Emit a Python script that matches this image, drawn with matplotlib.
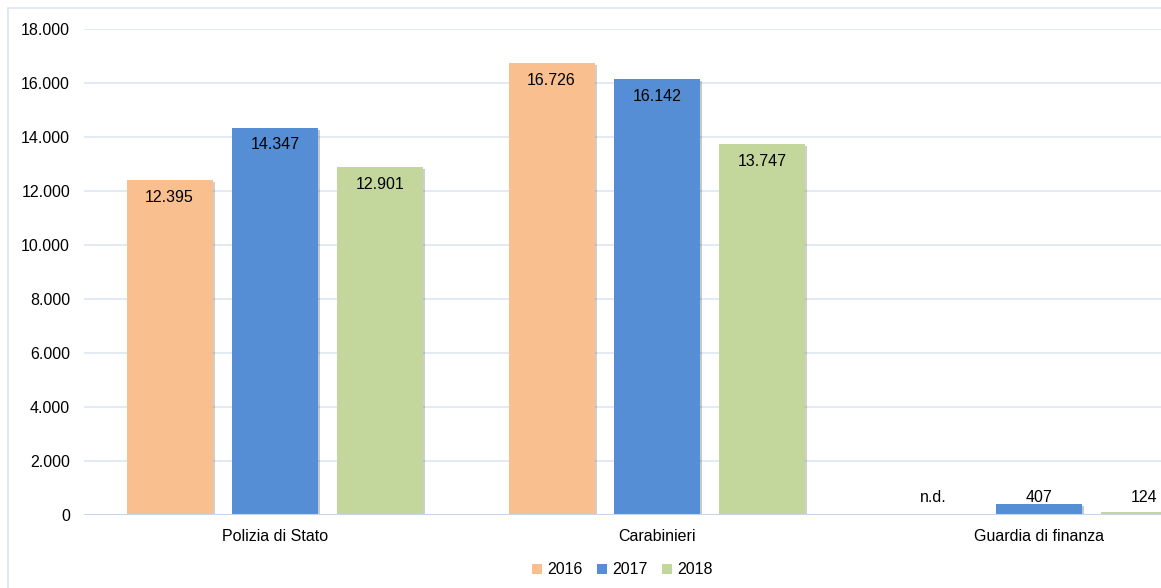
import matplotlib
matplotlib.use("Agg")
import matplotlib.pyplot as plt
import matplotlib.patheffects as pe
from matplotlib.patches import Rectangle
import numpy as np

categories = ["Polizia di Stato", "Carabinieri", "Guardia di finanza"]
years = ["2016", "2017", "2018"]
v2016 = [12395, 16726, 0]
v2017 = [14347, 16142, 407]
v2018 = [12901, 13747, 124]
labels2016 = ["12.395", "16.726", "n.d."]
labels2017 = ["14.347", "16.142", "407"]
labels2018 = ["12.901", "13.747", "124"]
colors = ["#F9BF8F", "#558ED5", "#C3D69B"]

plt.rcParams["font.family"] = ["Liberation Sans", "DejaVu Sans"]
fs = 11.5

fig = plt.figure(figsize=(11.61, 5.88), dpi=100)
fig.patches.append(Rectangle((8 / 1161, -0.1), 1.2, (580 / 588) + 0.1, transform=fig.transFigure,
                             fill=False, edgecolor="#dae5f2", linewidth=1.2))
ax = fig.add_axes([84 / 1161, 1 - 515 / 588, 1146 / 1161, 486 / 588])

x = np.arange(len(categories))
w = 0.225
off = 0.276
shadow = [pe.SimplePatchShadow(offset=(1.5, -1.5), alpha=0.25), pe.Normal()]
series = [(v2016, labels2016), (v2017, labels2017), (v2018, labels2018)]
all_bars = []
for i, (vals, labs) in enumerate(series):
    pos = x + (i - 1) * off
    bars = ax.bar(pos, vals, width=w, color=colors[i], label=years[i], zorder=3)
    all_bars.append(bars)
    for p, v, t in zip(pos, vals, labs):
        if v > 2000:
            ax.annotate(t, (p, v), xytext=(0, -12.5), textcoords="offset points",
                        ha="center", va="center", fontsize=fs, color="#000000", zorder=5)
        else:
            # small values: labels sit on one line just above the axis
            ax.text(p, 660, t, ha="center", va="center", fontsize=fs, color="#000000", zorder=5)

ax.set_xlim(-0.5, 2.5)
ax.set_ylim(0, 18000)
ax.set_yticks(np.arange(0, 18001, 2000))
ax.set_yticklabels([f"{t:,}".replace(",", ".") for t in range(0, 18001, 2000)], fontsize=fs)
ax.set_xticks(x)
ax.set_xticklabels(categories, fontsize=fs)
ax.tick_params(axis="both", length=0)
ax.tick_params(axis="y", pad=10)
ax.tick_params(axis="x", pad=10)
ax.grid(axis="y", color="#dde6f1", linewidth=1.2, zorder=0)
ax.axhline(0, color="#c6d6ea", linewidth=1.5, zorder=4)
for s in ax.spines.values():
    s.set_visible(False)

leg = fig.legend(loc="center", bbox_to_anchor=(622 / 1161, 1 - 570 / 588), ncol=3, frameon=False,
                 fontsize=fs, handlelength=0.65, handleheight=0.65, handletextpad=0.3,
                 columnspacing=0.9)

# shadows added after the legend so the legend keys stay flat
for bars in all_bars:
    for b in bars:
        if b.get_height() > 0:
            b.set_path_effects(shadow)

plt.savefig("out.png", dpi=100)
